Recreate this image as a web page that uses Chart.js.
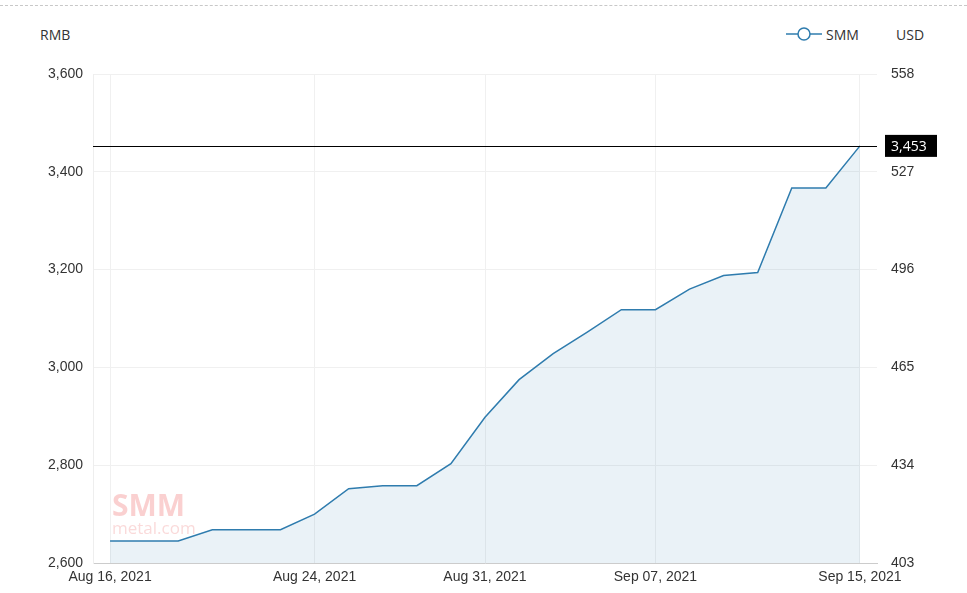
<!DOCTYPE html>
<html><head><meta charset="utf-8">
<script src="https://cdn.jsdelivr.net/npm/chart.js@4"></script>
<style>
html,body{margin:0;padding:0;background:#fff;font-family:"Open Sans",sans-serif}
#wrap{position:relative;width:967px;height:593px}
#top{position:absolute;left:0;right:0;top:5px;border-top:1px dashed #c8c8c8}
.t{position:absolute;font-size:14px;color:#333}
#c{position:absolute;left:0;top:0}
</style></head><body>
<div id="wrap">
<div id="top"></div>
<div class="t" style="left:40px;top:25px">RMB</div>
<div class="t" style="left:896px;top:25px">USD</div>
<svg style="position:absolute;left:786px;top:26px" width="36" height="16"><line x1="0" y1="8" x2="36" y2="8" stroke="#2f7cae" stroke-width="1.5"/><circle cx="18" cy="8" r="6" fill="#fff" stroke="#2f7cae" stroke-width="1.5"/></svg>
<div class="t" style="left:826px;top:25px">SMM</div>
<canvas id="c" width="967" height="593"></canvas>
</div>
<script>
const dates=["Aug 16, 2021","Aug 17, 2021","Aug 18, 2021","Aug 19, 2021","Aug 20, 2021","Aug 23, 2021","Aug 24, 2021","Aug 25, 2021","Aug 26, 2021","Aug 27, 2021","Aug 30, 2021","Aug 31, 2021","Sep 01, 2021","Sep 02, 2021","Sep 03, 2021","Sep 06, 2021","Sep 07, 2021","Sep 08, 2021","Sep 09, 2021","Sep 10, 2021","Sep 13, 2021","Sep 14, 2021","Sep 15, 2021"];
const smm=[2645,2645,2645,2668,2668,2668,2700,2752,2758,2758,2803,2898,2975,3028,3072,3118,3118,3160,3188,3194,3367,3367,3453];
const shownLabels=["Aug 16, 2021","Aug 24, 2021","Aug 31, 2021","Sep 07, 2021","Sep 15, 2021"];
const usdTicks=[403,434,465,496,527,558];
const lastValue=smm[smm.length-1];

const overlay={id:'overlay',
 beforeDatasetsDraw(ch){const {ctx}=ch;ctx.save();
  ctx.font='bold 30px "Open Sans",sans-serif';ctx.fillStyle='rgba(240,120,120,0.35)';ctx.fillText('SMM',112,516);
  ctx.font='17px "Open Sans",sans-serif';ctx.fillStyle='rgba(240,150,150,0.35)';ctx.fillText('metal.com',112,534);ctx.restore();},
 afterDatasetsDraw(ch){const {ctx,chartArea:a,scales}=ch;const y=scales.y.getPixelForValue(lastValue);
  ctx.save();ctx.strokeStyle='#000';ctx.lineWidth=1;ctx.beginPath();ctx.moveTo(a.left,Math.round(y)+0.5);ctx.lineTo(a.right,Math.round(y)+0.5);ctx.stroke();
  ctx.fillStyle='#000';ctx.fillRect(a.right+8,y-11,52,22);
  ctx.fillStyle='#fff';ctx.font='14px "Open Sans",sans-serif';ctx.textBaseline='middle';ctx.fillText(lastValue.toLocaleString('en-US'),a.right+14,y+1);ctx.restore();}};

new Chart(document.getElementById('c'),{type:'line',
 data:{labels:dates,datasets:[{label:'SMM',data:smm,borderColor:'#2f7cae',borderWidth:1.5,backgroundColor:'rgba(47,124,174,0.1)',fill:'start',pointRadius:0,pointHoverRadius:0,tension:0,yAxisID:'y'},
  {label:'usd',data:[],yAxisID:'y1'}]},
 options:{responsive:false,animation:false,
  layout:{padding:{left:0,right:0,top:74,bottom:0}},
  plugins:{tooltip:{enabled:false},legend:{display:false}},
  scales:{
   x:{offset:true,grid:{color:ctx=>shownLabels.includes(dates[ctx.index])?'#f0f0f0':'rgba(0,0,0,0)',drawTicks:false,offset:false},border:{color:'#ccc'},
     ticks:{autoSkip:false,maxRotation:0,color:'#333',font:{size:14},padding:6,callback:function(v){const l=this.getLabelForValue(v);return shownLabels.includes(l)?l:'';}},
     afterFit:s=>{s.height=30}},
   y:{position:'left',min:2600,max:3600,ticks:{stepSize:200,color:'#333',font:{size:14},padding:10,callback:v=>v.toLocaleString('en-US')},grid:{color:'#f0f0f0',drawTicks:false},border:{display:true,color:'#eee'},afterFit:s=>{s.width=93}},
   y1:{position:'right',min:403,max:558,afterBuildTicks:s=>{s.ticks=usdTicks.map(v=>({value:v}))},ticks:{color:'#333',font:{size:14},padding:14},grid:{display:false,drawTicks:false},border:{display:false},afterFit:s=>{s.width=90}}
  }},
 plugins:[overlay]});
</script></body></html>
